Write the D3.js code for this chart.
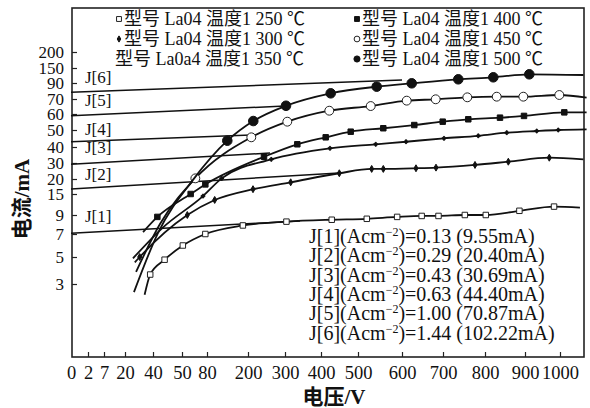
<!DOCTYPE html>
<html>
<head>
<meta charset="utf-8">
<script src="https://cdn.jsdelivr.net/npm/d3@7"></script>
<style>
  body { margin: 0; background: #fff; }
  svg { display: block; }
  text { fill: #111; }
</style>
</head>
<body>
<svg id="chart" width="590" height="408"></svg>
<script>
// ---- axis tick labels (non-uniform axes) ----
const voltTicks = [0, 2, 7, 20, 40, 50, 80, 200, 300, 400, 500, 600, 700, 800, 900, 1000];
const currentTicks = [3, 5, 7, 9, 15, 20, 30, 40, 50, 60, 70, 90, 150, 200];

// ---- I–V curves: curve path points (V, mA); m = index range of measured (marked) points ----
const v250 = [34, 38, 44, 51, 78, 185, 304, 429, 520, 589, 648, 689, 752, 802, 886, 983, 1057];
const i250 = [2.2, 3.7, 4.8, 6.0, 7.0, 7.9, 8.3, 8.5, 8.6, 8.8, 8.9, 8.9, 9.0, 9.0, 10.2, 11.4, 11.1];
const m250 = [1, 15];

const v300 = [27, 30.5, 56.4, 102.5, 213.5, 315.8, 449.5, 531.1, 557.5, 634.1, 682.9, 776.2, 858.3, 969.4, 1067];
const i300 = [4.6, 5.0, 9.0, 13.3, 16.6, 18.9, 23.6, 26.3, 26.3, 26.7, 27.1, 28.8, 30.8, 33.3, 32.3];
const m300 = [1, 13];

const v350 = [25.7, 43.1, 75.2, 123, 263, 424.3, 540.2, 609.8, 702.4, 784, 854.3, 933.4, 995.1, 1076];
const i350 = [4.9, 7.6, 14.4, 20.4, 32.3, 39.2, 41.6, 43.1, 45.1, 46.6, 48.4, 49.4, 50.0, 50.4];
const m350 = [2, 12];

const v400 = [32.9, 41.5, 60.4, 78, 243.2, 334.2, 412.7, 480.3, 557.5, 630, 699.3, 760.2, 837.5, 897.5, 1012.3, 1076];
const i400 = [7.2, 8.8, 15.0, 18.2, 33.9, 41.6, 45.7, 49.0, 51.1, 53.1, 55.2, 56.7, 57.7, 58.8, 61.1, 61.1];
const m400 = [1, 14];

const v450 = [27.9, 42.4, 66, 208.9, 306.4, 422.4, 528.9, 611.5, 682.2, 757.9, 829.3, 895.8, 998, 1076];
const i450 = [3.9, 8.05, 20.4, 45.7, 55.2, 62.2, 65.3, 68.9, 69.8, 72.1, 72.9, 72.9, 75.0, 71.6];
const m450 = [2, 12];

const v500 = [26.4, 41.7, 63.2, 139.4, 214.3, 302.8, 426.2, 542.5, 623.7, 736.4, 820.8, 912.3, 1067];
const i500 = [2.4, 7.1, 19.7, 43.7, 55.6, 65.5, 77.1, 85.4, 89.6, 104.8, 112.8, 124.8, 122];
const m500 = [3, 11];

// ---- current-density reference lines J[1]..J[6] (start V, start mA, end V, end mA) ----
const jNames   = ["J[1]", "J[2]", "J[3]", "J[4]", "J[5]", "J[6]"];
const jDensity = [0.13, 0.29, 0.43, 0.63, 1.00, 1.44];
const jCurrent = [9.55, 20.40, 30.69, 44.40, 70.87, 102.22];
const jStartV = [0, 0, 0, 0, 0, 0];
const jStartI = [7.07, 16.7, 29.2, 43.1, 58.9, 78.4];
const jEndV   = [341.7, 448.7, 259.5, 208, 300, 600];
const jEndI   = [8.37, 23.75, 36.25, 47.1, 65.3, 102.22];

// ---- legend ----
const legendLabels = [
  "型号 La04 温度1 250 ℃", "型号 La04 温度1 300 ℃", "型号 La0a4 温度1 350 ℃",
  "型号 La04 温度1 400 ℃", "型号 La04 温度1 450 ℃", "型号 La04 温度1 500 ℃"
];

const svg = d3.select("#chart");
const serif = "'Liberation Serif', 'Times New Roman', 'Noto Sans CJK SC', serif";
const frame = { left: 72, top: 8, right: 584, bottom: 357 };

// piecewise scales following the printed tick layout
const x = d3.scaleLinear()
  .domain(voltTicks)
  .range([71, 88, 104, 125, 153, 182, 207, 248, 285, 321, 358, 402, 443, 485, 525, 560]);
const y = d3.scaleLinear()
  .domain(currentTicks)
  .range([284, 257, 234, 215, 194, 179, 163, 147, 130, 114, 99, 83, 68, 52]);

// frame
svg.append("rect")
  .attr("x", frame.left).attr("y", frame.top)
  .attr("width", frame.right - frame.left).attr("height", frame.bottom - frame.top)
  .attr("fill", "none").attr("stroke", "#222").attr("stroke-width", 1.6);

// axes (ticks point inward)
const xAxis = svg.append("g")
  .attr("transform", `translate(0,${frame.bottom})`)
  .call(d3.axisBottom(x).tickValues(voltTicks).tickSize(-5).tickPadding(9).tickFormat(d3.format("d")));
xAxis.select(".domain").remove();
xAxis.selectAll(".tick line").attr("stroke", "#222").attr("stroke-width", 1.2);
xAxis.selectAll(".tick").filter(d => d === 0).select("line").remove();
xAxis.selectAll("text").attr("font-family", serif).attr("font-size", 18.5).attr("fill", "#111");

const yAxis = svg.append("g")
  .attr("transform", `translate(${frame.left},0)`)
  .call(d3.axisLeft(y).tickValues(currentTicks).tickSize(-5).tickPadding(8).tickFormat(d3.format("d")));
yAxis.select(".domain").remove();
yAxis.selectAll(".tick line").attr("stroke", "#222").attr("stroke-width", 1.2);
yAxis.selectAll("text").attr("font-family", serif).attr("font-size", 17).attr("fill", "#111");

// axis titles
svg.append("text")
  .attr("x", 334).attr("y", 404)
  .attr("text-anchor", "middle")
  .attr("font-family", serif).attr("font-size", 21).attr("font-weight", 600)
  .text("电压/V");
svg.append("text")
  .attr("transform", "translate(29,199) rotate(-90)")
  .attr("text-anchor", "middle")
  .attr("font-family", serif).attr("font-size", 21).attr("font-weight", 600)
  .text("电流/mA");

// J reference lines
const plot = svg.append("g");
jNames.forEach((name, k) => {
  plot.append("line")
    .attr("x1", x(jStartV[k])).attr("y1", y(jStartI[k]))
    .attr("x2", x(jEndV[k])).attr("y2", y(jEndI[k]))
    .attr("stroke", "#111").attr("stroke-width", 1.5);
});
// J labels sit just above each line near the axis
const jLabelGap = [11, 9, 11, 7, 10, 9];
jNames.forEach((name, k) => {
  plot.append("text")
    .attr("x", 85).attr("y", y(jStartI[k]) - jLabelGap[k])
    .attr("font-family", serif).attr("font-size", 17)
    .text(name);
});

// marker styles per series
const symbolFor = {
  openSquare:  { type: d3.symbolSquare,   size: 30, fill: "#fff", stroke: "#222" },
  diamond:     { type: d3.symbolDiamond,  size: 14, fill: "#111", stroke: "#111" },
  tick:        { type: d3.symbolCross,    size: 8,  fill: "#111", stroke: "#111" },
  filledSquare:{ type: d3.symbolSquare,   size: 30, fill: "#111", stroke: "#111" },
  openCircle:  { type: d3.symbolCircle,   size: 62, fill: "#fff", stroke: "#222" },
  filledCircle:{ type: d3.symbolCircle,   size: 72, fill: "#111", stroke: "#111" }
};
const series = [
  { v: v250, i: i250, m: m250, sym: "openSquare" },
  { v: v300, i: i300, m: m300, sym: "diamond" },
  { v: v350, i: i350, m: m350, sym: "tick" },
  { v: v400, i: i400, m: m400, sym: "filledSquare" },
  { v: v450, i: i450, m: m450, sym: "openCircle" },
  { v: v500, i: i500, m: m500, sym: "filledCircle" }
];

const line = d3.line()
  .x(d => x(d[0])).y(d => y(d[1]))
  .curve(d3.curveMonotoneX);

series.forEach(s => {
  const pts = s.v.map((v, k) => [v, s.i[k]]);
  plot.append("path")
    .attr("d", line(pts))
    .attr("fill", "none").attr("stroke", "#111").attr("stroke-width", 1.8);
  const st = symbolFor[s.sym];
  const marks = pts.slice(s.m[0], s.m[1] + 1);
  plot.selectAll(null).data(marks).join("path")
    .attr("transform", d => `translate(${x(d[0])},${y(d[1])})`)
    .attr("d", d3.symbol().type(st.type).size(st.size))
    .attr("fill", st.fill).attr("stroke", st.stroke).attr("stroke-width", 1);
});

// legend
const legend = svg.append("g");
const legendCols = [124, 362];
const legendRows = [25, 45, 65];
const legendSym = ["openSquare", "diamond", null, "filledSquare", "openCircle", "filledCircle"];
legendLabels.forEach((lab, k) => {
  const col = Math.floor(k / 3), row = k % 3;
  const tx = legendCols[col] - (legendSym[k] ? 0 : 9);
  legend.append("text")
    .attr("x", tx).attr("y", legendRows[row])
    .attr("font-family", serif).attr("font-size", 18)
    .text(lab);
  if (legendSym[k]) {
    const st = symbolFor[legendSym[k]];
    const sz = legendSym[k] === "filledCircle" ? 30 : legendSym[k] === "openCircle" ? 26 : st.size * 0.8;
    legend.append("path")
      .attr("transform", `translate(${legendCols[col] - 5},${legendRows[row] - 6})`)
      .attr("d", d3.symbol().type(st.type).size(sz))
      .attr("fill", st.fill).attr("stroke", st.stroke).attr("stroke-width", 1);
  }
});

// current-density summary
const notes = svg.append("g");
jNames.forEach((name, k) => {
  const t = notes.append("text")
    .attr("x", 309).attr("y", 243 + k * 19.3)
    .attr("font-family", serif).attr("font-size", 20);
  t.append("tspan").text(`${name}(Acm`);
  t.append("tspan").attr("dy", -7).attr("font-size", 12).text("−2");
  t.append("tspan").attr("dy", 7).text(`)=${jDensity[k].toFixed(2)} (${jCurrent[k].toFixed(2)}mA)`);
});
</script>
</body>
</html>
